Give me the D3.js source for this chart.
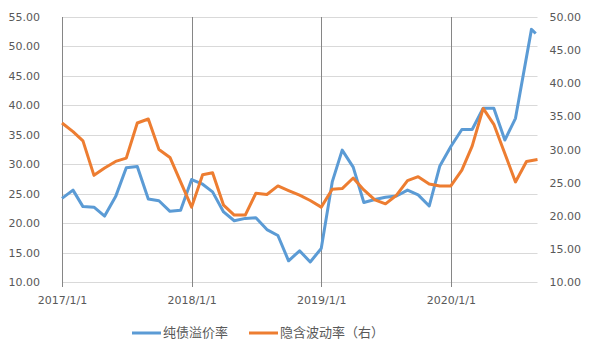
<!DOCTYPE html>
<html>
<head>
    <meta charset="utf-8">
    <title>纯债溢价率与隐含波动率</title>
    <style>
        body {
            margin: 0;
            background: #ffffff;
        }

        .tick-label {
            font-family: "DejaVu Sans", sans-serif;
            font-size: 11px;
            fill: #595959;
        }

        .legend-label {
            font-family: "Noto Sans CJK SC", sans-serif;
            font-size: 13px;
            fill: #595959;
        }
    </style>
    <script src="https://d3js.org/d3.v7.min.js"></script>
</head>
<body>
    <div id="chart"></div>

    <script>
        // monthly dates (orange series)
        var months = [
            "2017/1/1", "2017/2/1", "2017/3/1", "2017/4/1", "2017/5/1", "2017/6/1",
            "2017/7/1", "2017/8/1", "2017/9/1", "2017/10/1", "2017/11/1", "2017/12/1",
            "2018/1/1", "2018/2/1", "2018/3/1", "2018/4/1", "2018/5/1", "2018/6/1",
            "2018/7/1", "2018/8/1", "2018/9/1", "2018/10/1", "2018/11/1", "2018/12/1",
            "2019/1/1", "2019/2/1", "2019/3/1", "2019/4/1", "2019/5/1", "2019/6/1",
            "2019/7/1", "2019/8/1", "2019/9/1", "2019/10/1", "2019/11/1", "2019/12/1",
            "2020/1/1", "2020/2/1", "2020/3/1", "2020/4/1", "2020/5/1", "2020/6/1",
            "2020/7/1", "2020/8/1", "2020/9/1"
        ];

        // the blue series ends on two mid-August points
        var premiumDates = months.slice(0, 43).concat(["2020/8/15", "2020/8/27"]);

        var premium = [
            24.2, 25.6, 22.8, 22.7, 21.2, 24.5, 29.4, 29.6, 24.1, 23.8, 22.0, 22.2,
            27.4, 26.6, 25.3, 21.9, 20.4, 20.8, 20.9, 18.9, 17.9, 13.6, 15.3, 13.4,
            15.7, 27.0, 32.4, 29.5, 23.5, 24.0, 24.4, 24.6, 25.6, 24.8, 22.9, 29.7,
            33.0, 35.9, 35.9, 39.5, 39.5, 34.1, 37.8, 52.9, 52.2
        ];

        var volatility = [
            34.0, 32.7, 31.3, 26.1, 27.2, 28.2, 28.7, 34.0, 34.6, 30.0, 28.8, 25.1,
            21.3, 26.2, 26.5, 21.6, 20.1, 20.1, 23.4, 23.2, 24.5, 23.8, 23.1, 22.3,
            21.3, 24.0, 24.1, 25.7, 23.9, 22.4, 21.8, 23.1, 25.3, 25.9, 24.8, 24.5,
            24.5, 26.9, 30.5, 36.2, 33.8, 29.4, 25.1, 28.2, 28.5
        ];

        var leftTicks = [10, 15, 20, 25, 30, 35, 40, 45, 50, 55];
        var rightTicks = [10, 15, 20, 25, 30, 35, 40, 45, 50];
        var yearTicks = ["2017/1/1", "2018/1/1", "2019/1/1", "2020/1/1"];
        var seriesNames = ["纯债溢价率", "隐含波动率（右）"];
        var colors = ["#5b9bd5", "#ed7d31"];

        var parseDate = d3.timeParse("%Y/%m/%d");

        var width = 592, height = 355;
        var plot = {left: 62, right: 537.5, top: 17, bottom: 282};

        var svg = d3.select("#chart").append("svg")
            .attr("width", width)
            .attr("height", height);

        svg.append("rect")
            .attr("width", width)
            .attr("height", height)
            .attr("fill", "#ffffff");

        var x = d3.scaleTime()
            .domain([parseDate(months[0]), parseDate(months[months.length - 1])])
            .range([plot.left, plot.right]);

        var yLeft = d3.scaleLinear()
            .domain([10, 55])
            .range([plot.bottom, plot.top]);

        var yRight = d3.scaleLinear()
            .domain([10, 50])
            .range([plot.bottom, plot.top]);

        // horizontal gridlines
        svg.append("g")
            .selectAll("line")
            .data(leftTicks)
            .enter().append("line")
            .attr("x1", plot.left)
            .attr("x2", plot.right)
            .attr("y1", function(d) { return Math.round(yLeft(d)) + 0.5; })
            .attr("y2", function(d) { return Math.round(yLeft(d)) + 0.5; })
            .attr("stroke", "#d9d9d9")
            .attr("stroke-width", 1);

        // yearly vertical lines with small ticks below the axis
        svg.append("g")
            .selectAll("line")
            .data(yearTicks)
            .enter().append("line")
            .attr("x1", function(d) { return Math.round(x(parseDate(d))) + 0.5; })
            .attr("x2", function(d) { return Math.round(x(parseDate(d))) + 0.5; })
            .attr("y1", plot.top)
            .attr("y2", plot.bottom + 5)
            .attr("stroke", "#868686")
            .attr("stroke-width", 1);

        // left axis
        var leftAxis = d3.axisLeft(yLeft)
            .tickValues(leftTicks)
            .tickFormat(d3.format(".2f"))
            .tickSize(0)
            .tickPadding(22);

        var gLeft = svg.append("g")
            .attr("transform", "translate(" + plot.left + ",0)")
            .call(leftAxis);
        gLeft.select(".domain").remove();
        gLeft.selectAll("text").attr("class", "tick-label").attr("fill", null);

        // right axis
        var rightAxis = d3.axisRight(yRight)
            .tickValues(rightTicks)
            .tickFormat(d3.format(".2f"))
            .tickSize(0)
            .tickPadding(12);

        var gRight = svg.append("g")
            .attr("transform", "translate(" + plot.right + ",0)")
            .call(rightAxis);
        gRight.select(".domain").remove();
        gRight.selectAll("text").attr("class", "tick-label").attr("fill", null);

        // bottom axis
        var bottomAxis = d3.axisBottom(x)
            .tickValues(yearTicks.map(parseDate))
            .tickFormat(d3.timeFormat("%Y/%-m/%-d"))
            .tickSize(0)
            .tickPadding(14);

        var gBottom = svg.append("g")
            .attr("transform", "translate(0," + plot.bottom + ")")
            .call(bottomAxis);
        gBottom.select(".domain").remove();
        gBottom.selectAll("text").attr("class", "tick-label").attr("fill", null);

        // series lines
        var premiumData = premium.map(function(v, i) {
            return {date: parseDate(premiumDates[i]), value: v};
        });
        var volatilityData = volatility.map(function(v, i) {
            return {date: parseDate(months[i]), value: v};
        });

        var lineLeft = d3.line()
            .x(function(d) { return x(d.date); })
            .y(function(d) { return yLeft(d.value); });

        var lineRight = d3.line()
            .x(function(d) { return x(d.date); })
            .y(function(d) { return yRight(d.value); });

        svg.append("path")
            .datum(premiumData)
            .attr("d", lineLeft)
            .attr("fill", "none")
            .attr("stroke", colors[0])
            .attr("stroke-width", 3)
            .attr("stroke-linejoin", "round");

        svg.append("path")
            .datum(volatilityData)
            .attr("d", lineRight)
            .attr("fill", "none")
            .attr("stroke", colors[1])
            .attr("stroke-width", 3)
            .attr("stroke-linejoin", "round");

        // legend
        var legendX = [132, 249];
        var legend = svg.append("g")
            .selectAll("g")
            .data(seriesNames)
            .enter().append("g")
            .attr("transform", function(d, i) { return "translate(" + legendX[i] + ",333)"; });

        legend.append("line")
            .attr("x1", 0)
            .attr("x2", 29)
            .attr("stroke", function(d, i) { return colors[i]; })
            .attr("stroke-width", 3);

        legend.append("text")
            .attr("class", "legend-label")
            .attr("x", 31)
            .attr("dy", "0.32em")
            .text(function(d) { return d; });
    </script>
</body>
</html>
